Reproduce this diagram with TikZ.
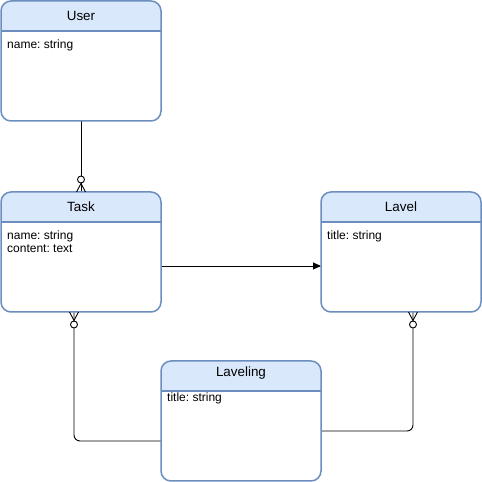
\documentclass[tikz,border=0pt]{standalone}
\usepackage{fontspec}
\setmainfont{Liberation Sans}
\usetikzlibrary{calc,arrows.meta}
\definecolor{hdrfill}{HTML}{DAE8FC}
\definecolor{hdrline}{HTML}{6C8EBF}
\frenchspacing
\tikzset{
  anchorbox/.style={minimum width=160pt, minimum height=120pt, inner sep=0pt, outer sep=0pt},
  boxline/.style={draw=hdrline, line width=1.5pt, rounded corners=10pt},
  titletext/.style={font=\fontsize{13.4}{15}\selectfont, inner sep=0pt},
  attrtext/.style={font=\fontsize{12}{13}\selectfont\frenchspacing, inner sep=0pt, align=left, anchor=north west},
  conn/.style={draw=black, line width=0.9pt},
}
% #1 name, #2 centre, #3 title, #4 attributes, #5 title offset, #6 attribute offset
\newcommand{\erentity}[6]{%
  \begin{scope}
    \clip[rounded corners=10pt] (#1.south west) rectangle (#1.north east);
    \fill[white] (#1.south west) rectangle (#1.north east);
    \fill[hdrfill] (#1.north west) rectangle ($(#1.north east)+(0,-30)$);
  \end{scope}
  \draw[draw=hdrline, line width=1.5pt] ($(#1.north west)+(0,-30)$) -- ($(#1.north east)+(0,-30)$);
  \draw[boxline] (#1.south west) rectangle (#1.north east);
  \node[titletext] (#1-title) at ($(#1.north)+(0,-#5)$) {#3};
  \node[attrtext] (#1-attrs) at ($(#1.north west)+(6,-#6)$) {#4};
}
\newcommand{\erzeromany}[2]{%
  \begin{scope}[shift={(#1)}, rotate=#2]
    \draw[conn] (0,4.5) -- (8.5,0) -- (0,-4.5);
    \draw[conn, fill=white] (12.5,0) circle (3.5);
  \end{scope}
}
\begin{document}
\begin{tikzpicture}[x=1pt,y=1pt]
\useasboundingbox (0,0) rectangle (482,482);
\fill[white] (0,0) rectangle (482,482);

\node[anchorbox] (user) at (81,421) {};
\node[anchorbox] (task) at (81,230) {};
\node[anchorbox] (lavel) at (401,230) {};
\node[anchorbox] (laveling) at (241,61) {};

% connectors
\draw[conn] (user.south) -- (task.north);
\draw[conn, -{Triangle[length=8pt,width=7pt]}] ([yshift=-14pt]task.east) -- ([yshift=-14pt]lavel.west);
\draw[conn, rounded corners=6pt] ([yshift=-20pt]laveling.west) -| ([xshift=-7pt]task.south);
\draw[conn, rounded corners=6pt] ([yshift=-10pt]laveling.east) -| ([xshift=12pt]lavel.south);

\erentity{user}{81,421}{User}{name: string}{15}{39}
\erentity{task}{81,230}{Task}{name: string\\content: text}{15}{39}
\erentity{lavel}{401,230}{Lavel}{title: string}{15}{39}
\erentity{laveling}{241,61}{Laveling}{title: string}{12}{31.5}

\erzeromany{task.north}{90}
\erzeromany{$(task.south)+(-7,0)$}{-90}
\erzeromany{$(lavel.south)+(12,0)$}{-90}
\end{tikzpicture}
\end{document}
